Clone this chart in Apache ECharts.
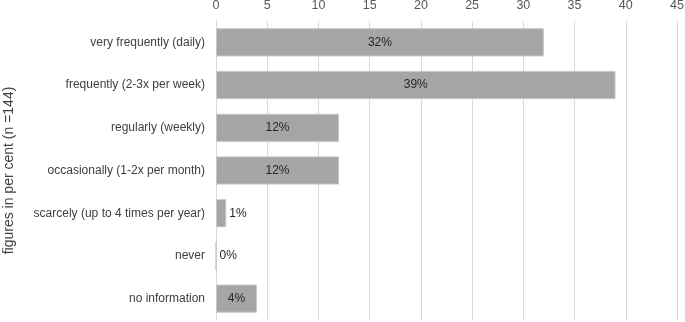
<!DOCTYPE html>
<html>
<head>
<meta charset="utf-8">
<script src="https://cdn.jsdelivr.net/npm/echarts@6/dist/echarts.min.js"></script>
<style>
  html, body { margin: 0; padding: 0; background: #fff; }
  #chart { width: 685px; height: 322px; }
</style>
</head>
<body>
<div id="chart"></div>
<script>
const categories = [
  'very frequently (daily)',
  'frequently (2-3x per week)',
  'regularly (weekly)',
  'occasionally (1-2x per month)',
  'scarcely (up to 4 times per year)',
  'never',
  'no information'
];
const values = [32, 39, 12, 12, 1, 0, 4];
// labels that sit beside the bar instead of inside it
const outsideLabels = [false, false, false, false, true, true, false];

const myChart = echarts.init(document.getElementById('chart'), null, { renderer: 'canvas' });

const font = '"Liberation Sans", Arial, sans-serif';

const option = {
  animation: false,
  grid: { left: 216, right: 8, top: 21, bottom: 2, containLabel: false, outerBoundsMode: 'none' },
  xAxis: {
    type: 'value',
    position: 'top',
    min: 0,
    max: 45,
    interval: 5,
    axisLine: { show: false },
    axisTick: { show: false },
    axisLabel: { color: '#595959', fontSize: 12.5, fontFamily: font, margin: 9 },
    splitLine: { lineStyle: { color: '#d9d9d9', width: 1 } }
  },
  yAxis: {
    type: 'category',
    inverse: true,
    data: categories,
    name: 'figures in per cent (n =144)',
    nameLocation: 'middle',
    nameGap: 200,
    nameRotate: 90,
    nameTextStyle: { color: '#404040', fontSize: 14, fontFamily: font },
    axisLine: { show: true, lineStyle: { color: '#d9d9d9' } },
    axisTick: { show: false },
    axisLabel: { color: '#404040', fontSize: 12, fontFamily: font, margin: 11 }
  },
  series: [{
    type: 'bar',
    barCategoryGap: '34%',
    data: values.map((v, i) => ({
      value: v,
      label: { position: outsideLabels[i] ? 'right' : 'inside', distance: 3 }
    })),
    itemStyle: { color: '#a5a5a5', borderColor: '#c8c8c8', borderWidth: 1 },
    label: {
      show: true,
      color: '#262626',
      fontSize: 12,
      fontFamily: font,
      formatter: p => p.value + '%'
    }
  }]
};

myChart.setOption(option);
</script>
</body>
</html>
